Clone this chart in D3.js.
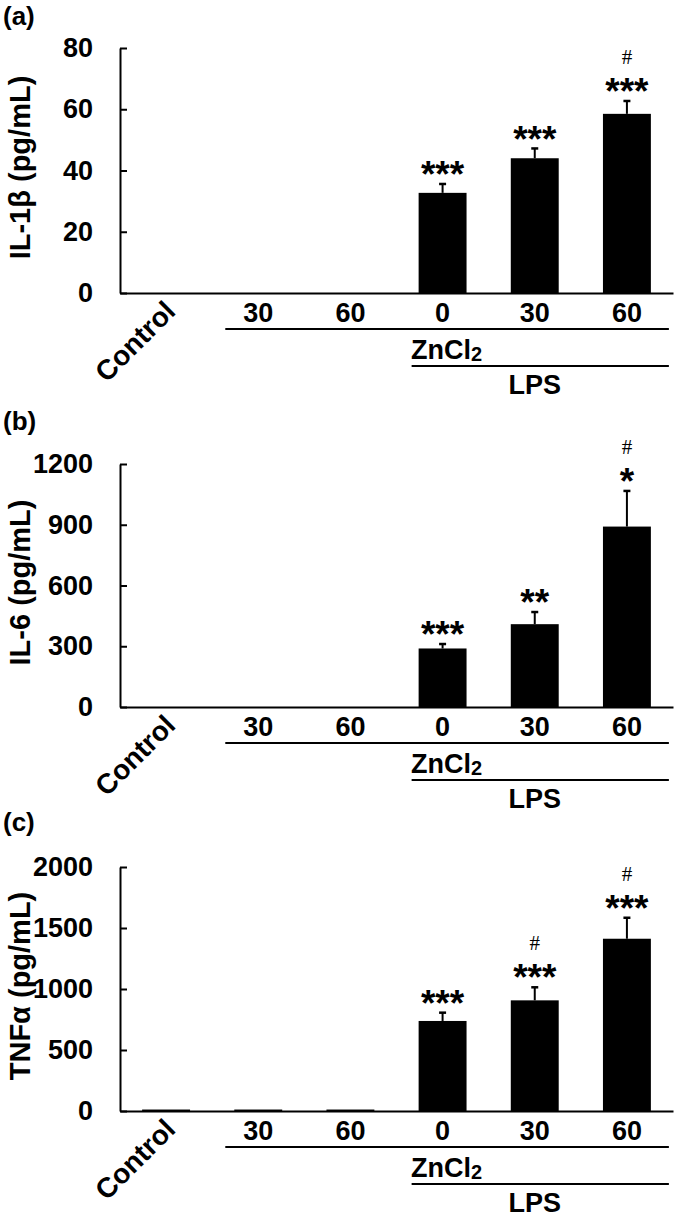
<!DOCTYPE html>
<meta charset="utf-8">
<style>
body { margin: 0; background: #fff; }
text { font-family: "Liberation Sans", Arial, sans-serif; font-weight: bold; fill: #000; }
.hash { font-family: "Liberation Serif", "Times New Roman", serif; font-weight: normal; }
</style>
<body>
<div id="chart"></div>
</body>
<script src="https://cdn.jsdelivr.net/npm/d3@7"></script>
<script>

var W = 675, H = 1217;

var tickLabels = ["Control", "30", "60", "0", "30", "60"];

// (a) IL-1b
var il1bMean  = [0, 0, 0, 32.7, 44.0, 58.5];
var il1bErr   = [0, 0, 0, 2.9, 3.2, 4.2];
var il1bStars = ["", "", "", "***", "***", "***"];
var il1bHash  = ["", "", "", "", "", "#"];
var il1bTicks = [0, 20, 40, 60, 80];

// (b) IL-6
var il6Mean  = [0, 0, 0, 289, 409, 891];
var il6Err   = [0, 0, 0, 22, 60, 176];
var il6Stars = ["", "", "", "***", "**", "*"];
var il6Hash  = ["", "", "", "", "", "#"];
var il6Ticks = [0, 300, 600, 900, 1200];

// (c) TNFa
var tnfMean  = [12, 12, 12, 738, 907, 1412];
var tnfErr   = [0, 0, 0, 68, 107, 172];
var tnfStars = ["", "", "", "***", "***", "***"];
var tnfHash  = ["", "", "", "", "#", "#"];
var tnfTicks = [0, 500, 1000, 1500, 2000];

var panels = [
  {letter: "(a)", letterY: 25,  label: "IL-1β (pg/mL)", mean: il1bMean, err: il1bErr, stars: il1bStars, hash: il1bHash, ticks: il1bTicks, top: 48,  y0: 293},
  {letter: "(b)", letterY: 430, label: "IL-6 (pg/mL)",  mean: il6Mean,  err: il6Err,  stars: il6Stars,  hash: il6Hash,  ticks: il6Ticks,  top: 464, y0: 707},
  {letter: "(c)", letterY: 831, label: "TNFα (pg/mL)",  mean: tnfMean,  err: tnfErr,  stars: tnfStars,  hash: tnfHash,  ticks: tnfTicks,  top: 867, y0: 1111}
];

var svg = d3.select("#chart").append("svg")
    .attr("width", W)
    .attr("height", H);

var x = d3.scaleBand()
    .domain(d3.range(tickLabels.length))
    .range([120, 673])
    .paddingInner(0.48)
    .paddingOuter(0.24);

panels.forEach(function(p) {
  var y = d3.scaleLinear()
      .domain([0, d3.max(p.ticks)])
      .range([p.y0, p.top]);

  var g = svg.append("g");

  g.append("text")
      .attr("x", 3)
      .attr("y", p.letterY)
      .style("font-size", "26px")
      .text(p.letter);

  g.append("text")
      .attr("transform", "translate(30," + ((p.y0 + p.top) / 2 - 3) + ") rotate(-90)")
      .attr("text-anchor", "middle")
      .style("font-size", "29px")
      .text(p.label);

  // bars
  g.selectAll("rect.bar")
      .data(p.mean)
    .enter().append("rect")
      .attr("class", "bar")
      .attr("x", function(d, i) { return x(i); })
      .attr("width", x.bandwidth())
      .attr("y", function(d) { return y(d); })
      .attr("height", function(d) { return y(0) - y(d); })
      .style("fill", "#000");

  // error bars (upper only)
  var eb = g.selectAll("g.err")
      .data(p.mean.map(function(m, i) { return {i: i, m: m, e: p.err[i]}; }).filter(function(d) { return d.e > 0; }))
    .enter().append("g")
      .attr("class", "err");
  eb.append("line")
      .attr("x1", function(d) { return x(d.i) + x.bandwidth() / 2; })
      .attr("x2", function(d) { return x(d.i) + x.bandwidth() / 2; })
      .attr("y1", function(d) { return y(d.m); })
      .attr("y2", function(d) { return y(d.m + d.e); })
      .style("stroke", "#000").style("stroke-width", 2);
  eb.append("line")
      .attr("x1", function(d) { return x(d.i) + x.bandwidth() / 2 - 3.5; })
      .attr("x2", function(d) { return x(d.i) + x.bandwidth() / 2 + 3.5; })
      .attr("y1", function(d) { return y(d.m + d.e); })
      .attr("y2", function(d) { return y(d.m + d.e); })
      .style("stroke", "#000").style("stroke-width", 2.5);

  // significance marks
  p.stars.forEach(function(s, i) {
    if (!s) return;
    var cx = x(i) + x.bandwidth() / 2;
    var top = y(p.mean[i] + p.err[i]);
    var starC = top - 18;
    g.append("text")
        .attr("x", cx)
        .attr("y", starC + 0.57 * 37)
        .attr("text-anchor", "middle")
        .style("font-size", "37px")
        .text(s);
    if (p.hash[i]) {
      g.append("text")
          .attr("class", "hash")
          .attr("x", cx)
          .attr("y", starC - 26 + 7)
          .attr("text-anchor", "middle")
          .style("font-size", "21px")
          .text(p.hash[i]);
    }
  });

  // y axis
  var ya = g.append("g")
      .attr("transform", "translate(120,0)")
      .call(d3.axisLeft(y).tickValues(p.ticks).tickSizeInner(-7).tickSizeOuter(0).tickPadding(27).tickFormat(d3.format("d")));
  ya.select(".domain").style("stroke-width", 2);
  ya.selectAll(".tick line").style("stroke-width", 2);
  ya.selectAll(".tick text").style("font-size", "27px").style("font-family", null);

  // x axis
  var xa = g.append("g")
      .attr("transform", "translate(0," + p.y0 + ")")
      .call(d3.axisBottom(x).tickSize(0).tickPadding(0).tickFormat(function(i) { return tickLabels[i]; }));
  xa.select(".domain").style("stroke-width", 2);
  xa.selectAll(".tick text")
      .style("font-size", "27px").style("font-family", null)
      .attr("y", 29)
      .attr("dy", null);
  xa.selectAll(".tick").filter(function(i) { return i === 0; }).select("text")
      .attr("text-anchor", "end")
      .attr("transform", "translate(11,20) rotate(-45)")
      .style("font-size", "28px")
      .attr("y", 0);

  // group brackets
  var zStart = x(1) - 9, lStart = x(3) - 7, gEnd = x(5) + x.bandwidth() + 18;
  g.append("line")
      .attr("x1", zStart).attr("x2", gEnd)
      .attr("y1", p.y0 + 36).attr("y2", p.y0 + 36)
      .style("stroke", "#000").style("stroke-width", 2);
  var zn = g.append("text")
      .attr("x", (x(3) + x.bandwidth() / 2) + 4)
      .attr("y", p.y0 + 66)
      .attr("text-anchor", "middle")
      .style("font-size", "27px");
  zn.append("tspan").text("ZnCl");
  zn.append("tspan").attr("dy", 2).style("font-size", "20px").text("2");
  g.append("line")
      .attr("x1", lStart).attr("x2", gEnd)
      .attr("y1", p.y0 + 73).attr("y2", p.y0 + 73)
      .style("stroke", "#000").style("stroke-width", 2);
  g.append("text")
      .attr("x", x(4) + x.bandwidth() / 2)
      .attr("y", p.y0 + 101)
      .attr("text-anchor", "middle")
      .style("font-size", "27px")
      .text("LPS");
});

</script>
